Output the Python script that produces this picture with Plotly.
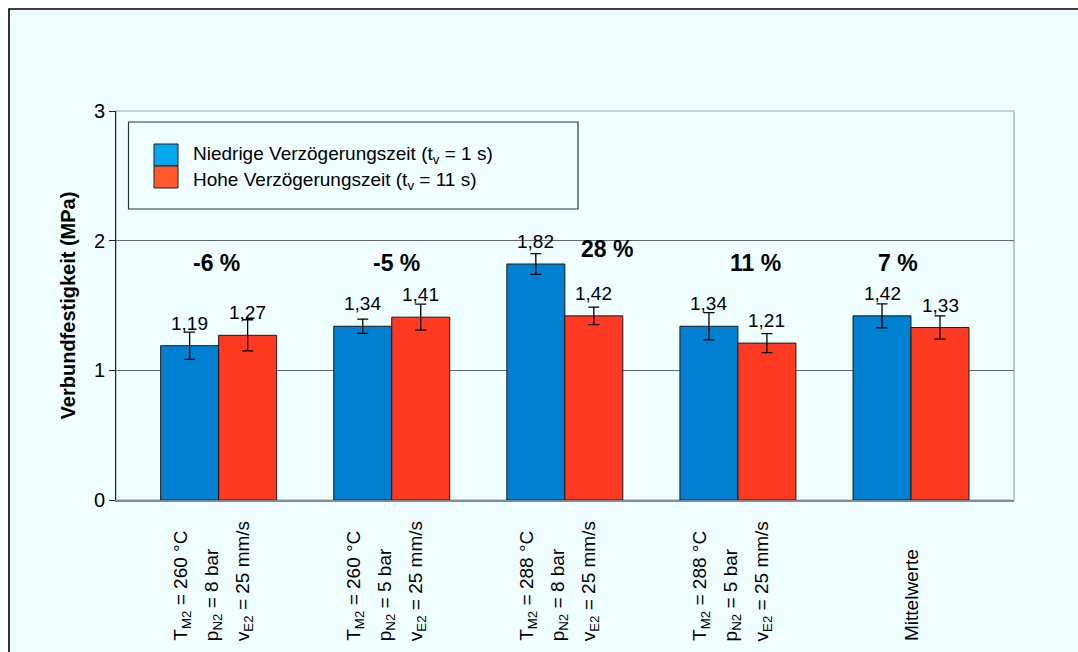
import plotly.graph_objects as go

# --- data -------------------------------------------------------------
group_lines = [
    ["T<sub>M2</sub> = 260 °C", "p<sub>N2</sub> = 8 bar", "v<sub>E2</sub> = 25 mm/s"],
    ["T<sub>M2</sub> = 260 °C", "p<sub>N2</sub> = 5 bar", "v<sub>E2</sub> = 25 mm/s"],
    ["T<sub>M2</sub> = 288 °C", "p<sub>N2</sub> = 8 bar", "v<sub>E2</sub> = 25 mm/s"],
    ["T<sub>M2</sub> = 288 °C", "p<sub>N2</sub> = 5 bar", "v<sub>E2</sub> = 25 mm/s"],
    ["Mittelwerte"],
]
series_names = [
    "Niedrige Verzögerungszeit (t<sub>v</sub> = 1 s)",
    "Hohe Verzögerungszeit (t<sub>v</sub> = 11 s)",
]
low_delay = [1.19, 1.34, 1.82, 1.34, 1.42]
low_delay_err = [0.105, 0.055, 0.08, 0.105, 0.093]
high_delay = [1.27, 1.41, 1.42, 1.21, 1.33]
high_delay_err = [0.12, 0.10, 0.067, 0.073, 0.09]
change_labels = ["-6 %", "-5 %", "28 %", "11 %", "7 %"]
y_ticks = [0, 1, 2, 3]

# --- styling ----------------------------------------------------------
FONT = "Liberation Sans, Arial, Helvetica, sans-serif"
BG = "#effeff"
BLUE, RED = "#0080d0", "#ff3a22"
LEG_BLUE, LEG_RED = "#00a8ee", "#ff5a2e"

W, H = 1078, 652
L, R, T, B = 116, 64, 111, 152
pw, ph = W - L - R, H - T - B


def px_x(p):
    return (p - L) / pw


def px_y(p):
    return (H - B - p) / ph


xs = list(range(len(group_lines)))
bar_w = 0.335

fig = go.Figure()
for name, vals, errs, col in [
    (series_names[0], low_delay, low_delay_err, BLUE),
    (series_names[1], high_delay, high_delay_err, RED),
]:
    fig.add_trace(go.Bar(
        x=xs, y=vals, name=name, marker=dict(color=col, line=dict(color="#1a1a1a", width=1)),
        error_y=dict(type="data", array=errs, color="black", thickness=1.3, width=5.5),
        showlegend=False,
    ))

annotations = []
# value labels above each bar
for i in xs:
    for off, v in [(-bar_w / 2, low_delay[i]), (bar_w / 2, high_delay[i])]:
        annotations.append(dict(
            x=i + off, y=v, xref="x", yref="y", text=f"{v:.2f}".replace(".", ","),
            showarrow=False, yanchor="bottom", yshift=10,
            font=dict(family=FONT, size=19, color="black"),
        ))

# relative change labels
change_pos = [(-0.01, 1.83), (0.03, 1.83), (0.245, 1.935), (0.1, 1.83), (-0.075, 1.83)]
for i, lab in enumerate(change_labels):
    dx, yy = change_pos[i]
    annotations.append(dict(
        x=i + dx, y=yy, xref="x", yref="y", text=f"<b>{lab}</b>", showarrow=False,
        yanchor="middle", font=dict(family=FONT, size=23, color="black"),
    ))

# category labels, rotated, starting from a common bottom line
line_shifts3 = [-37, -6, 25.5]
for i, lines in enumerate(group_lines):
    shifts = line_shifts3 if len(lines) == 3 else [0]
    for txt, sh in zip(lines, shifts):
        annotations.append(dict(
            x=i, y=px_y(643), xref="x", yref="paper", text=txt, showarrow=False,
            textangle=-90, xanchor="center", yanchor="bottom", xshift=sh,
            font=dict(family=FONT, size=19, color="black"),
        ))

# legend entries
for txt, yc in [(series_names[0], 155), (series_names[1], 181)]:
    annotations.append(dict(
        x=px_x(191), y=px_y(yc), xref="paper", yref="paper", text=txt,
        showarrow=False, xanchor="left", yanchor="middle",
        font=dict(family=FONT, size=19, color="black"),
    ))

shapes = [
    # outer frame
    dict(type="rect", xref="paper", yref="paper", x0=px_x(9), x1=px_x(1100),
         y0=px_y(9), y1=px_y(700), fillcolor=BG, line=dict(color="black", width=1.6),
         layer="below"),
    # plot frame (top and right)
    dict(type="rect", xref="paper", yref="paper", x0=0, x1=1, y0=0, y1=1,
         line=dict(color="#98a6ae", width=1.2), layer="below"),
    # legend box
    dict(type="rect", xref="paper", yref="paper", x0=px_x(128.5), x1=px_x(578),
         y0=px_y(209), y1=px_y(122), line=dict(color="#333", width=1.2),
         fillcolor=BG, layer="above"),
    dict(type="rect", xref="paper", yref="paper", x0=px_x(154), x1=px_x(178),
         y0=px_y(166), y1=px_y(144), fillcolor=LEG_BLUE,
         line=dict(color="#222", width=1), layer="above"),
    dict(type="rect", xref="paper", yref="paper", x0=px_x(154), x1=px_x(178),
         y0=px_y(188), y1=px_y(166), fillcolor=LEG_RED,
         line=dict(color="#222", width=1), layer="above"),
]

fig.update_layout(
    width=W, height=H,
    margin=dict(l=L, r=R, t=T, b=B, autoexpand=False),
    paper_bgcolor="white", plot_bgcolor=BG,
    barmode="group", bargap=0.33, bargroupgap=0,
    font=dict(family=FONT, size=19, color="black"),
    annotations=annotations, shapes=shapes,
    xaxis=dict(range=[-0.593, 4.595], showticklabels=False, ticks="", showgrid=False,
               zeroline=False, showline=True, linecolor="#7f8c95", linewidth=2),
    yaxis=dict(range=[0, 3], tickvals=y_ticks, ticks="outside", ticklen=6,
               tickcolor="#222", showline=True, linecolor="#222", linewidth=1,
               showgrid=True, gridcolor="#5f6a70", gridwidth=1, zeroline=False,
               tickfont=dict(family=FONT, size=20),
               title=dict(text="<b>Verbundfestigkeit (MPa)</b>", standoff=12,
                          font=dict(family=FONT, size=20))),
)

fig.write_html("out.html")
